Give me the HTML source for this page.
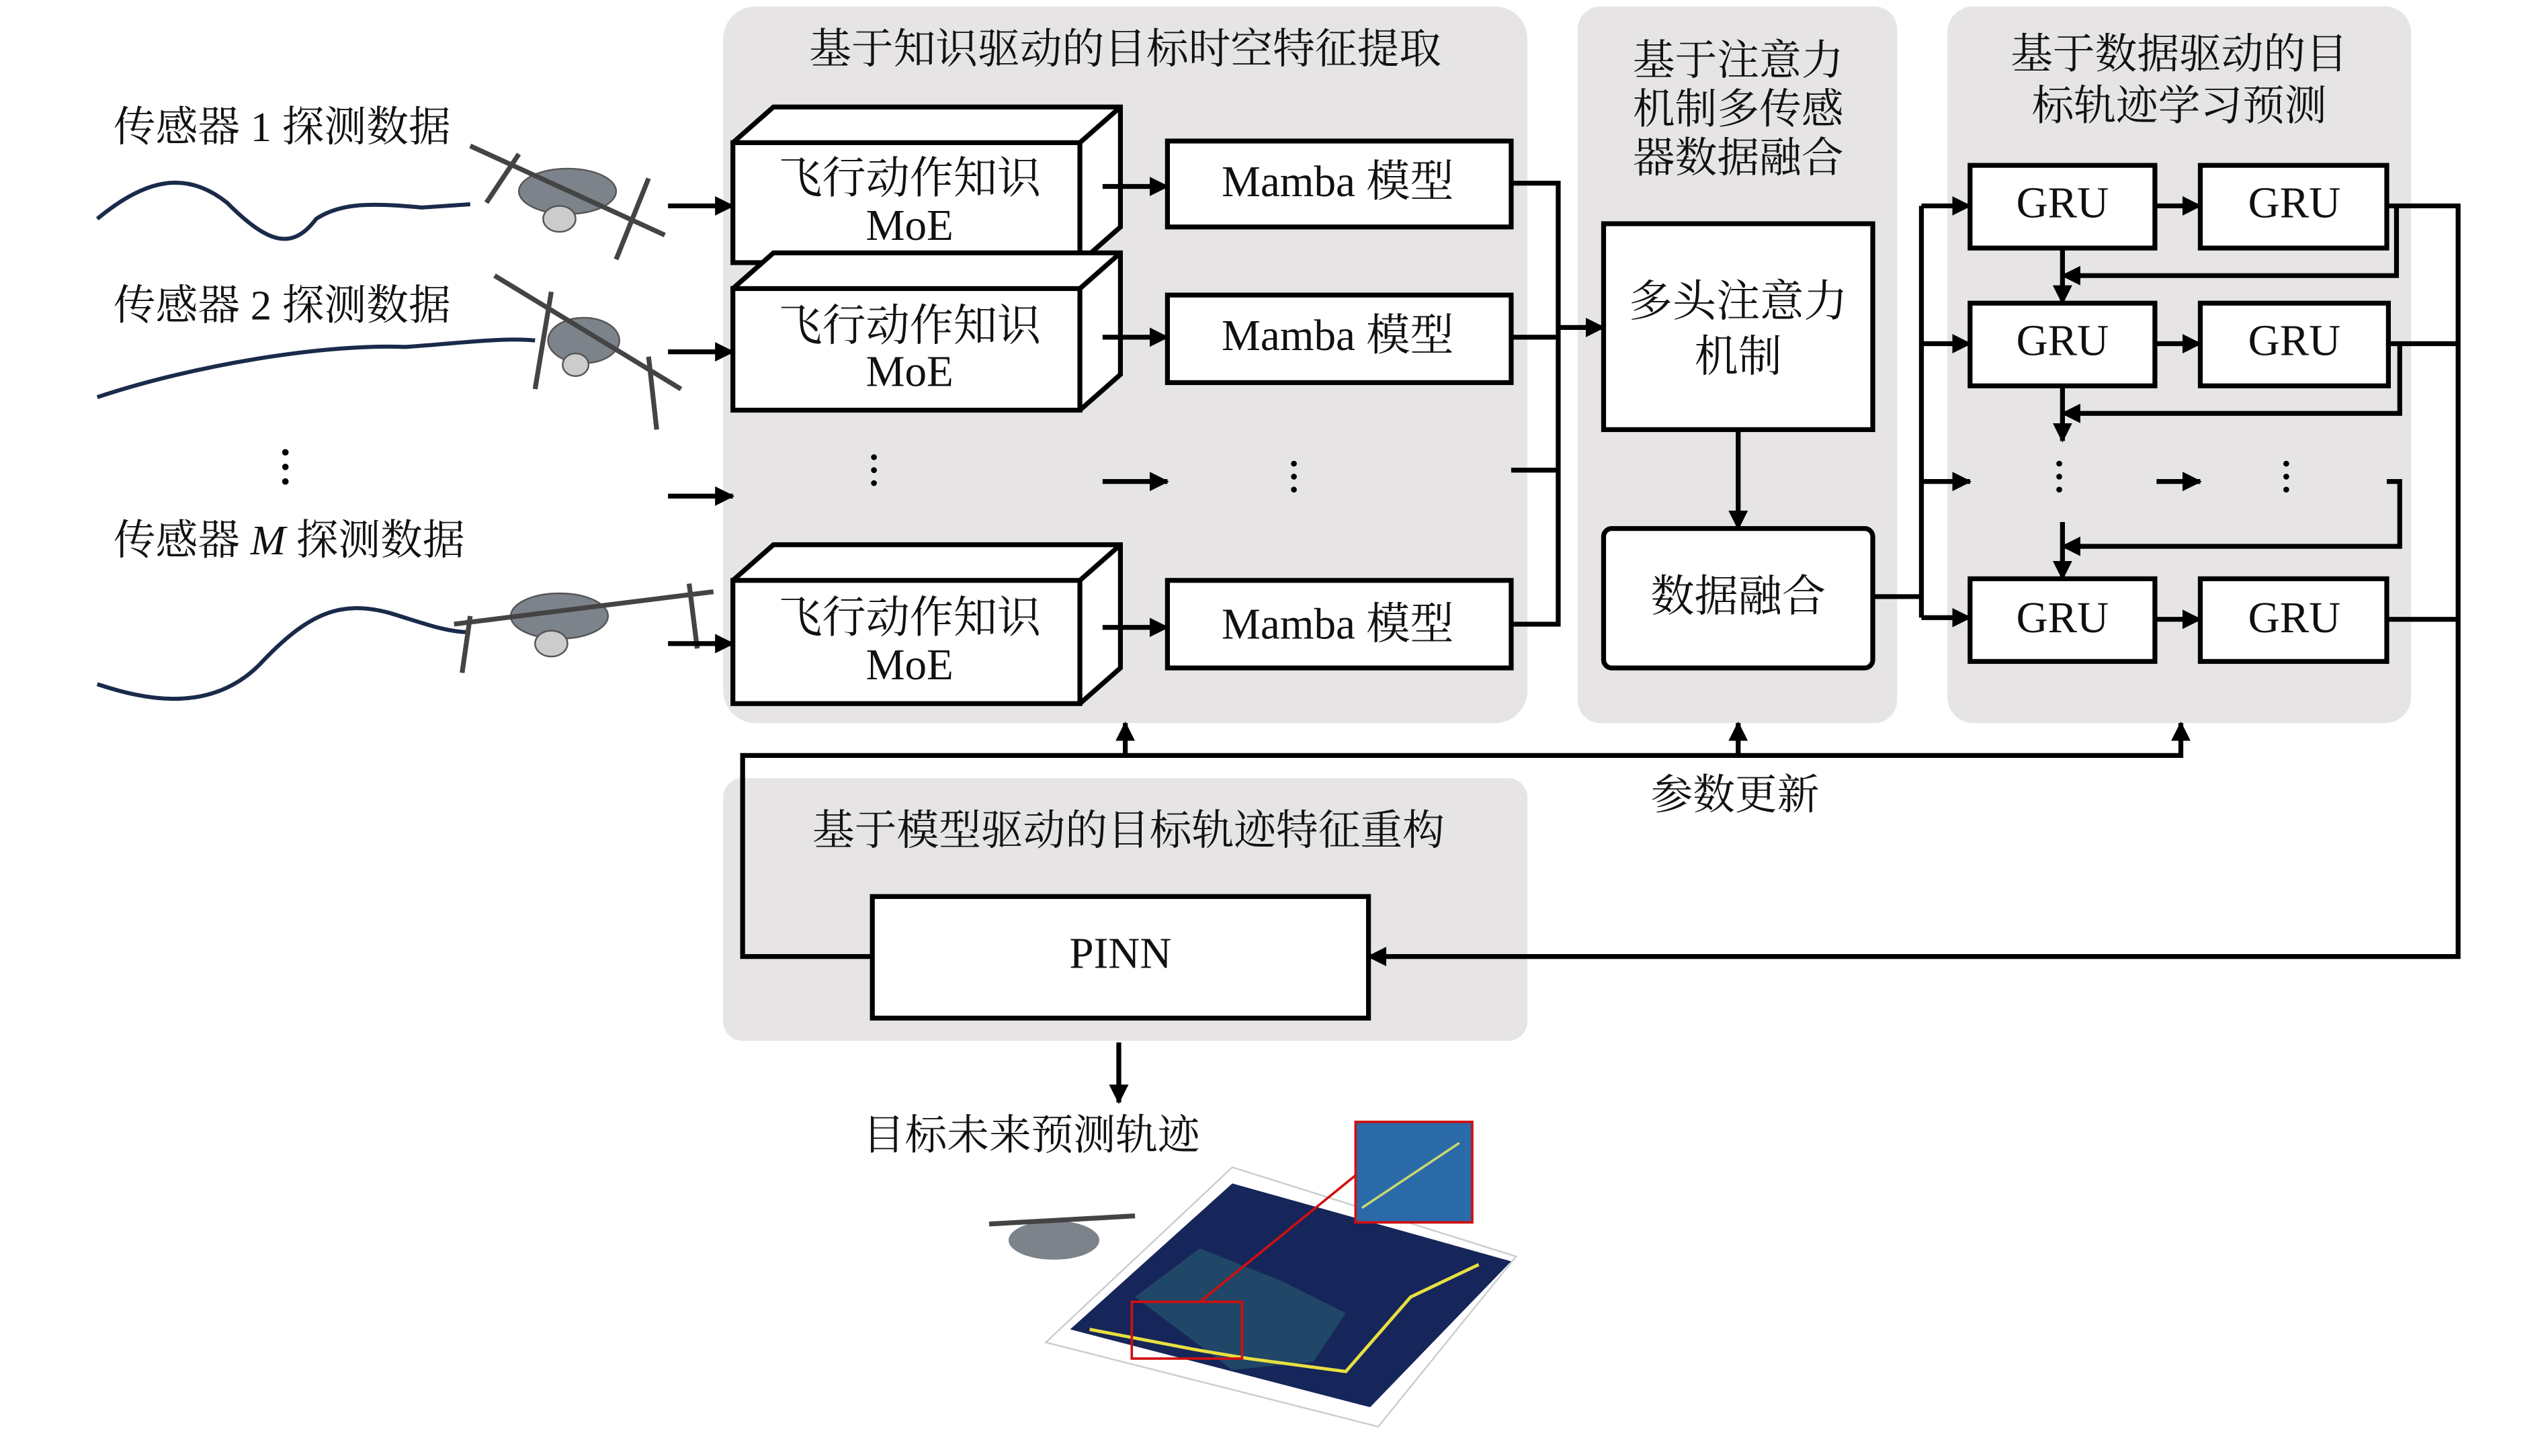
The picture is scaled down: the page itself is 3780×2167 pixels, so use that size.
<!DOCTYPE html>
<html><head><meta charset="utf-8"><style>
html,body{margin:0;padding:0;background:#fff;}
svg{display:block}
text{font-family:"Liberation Serif","Noto Serif CJK SC","Noto Sans CJK SC",serif;fill:#111;}
</style></head><body>
<svg width="3780" height="2167" viewBox="0 0 1566.5 898.1" preserveAspectRatio="none" xmlns="http://www.w3.org/2000/svg">
<defs>
<marker id="b" markerWidth="12" markerHeight="12" refX="11" refY="6" orient="auto" markerUnits="userSpaceOnUse"><path d="M0,0 L12,6 L0,12z" fill="#000"/></marker>
</defs>
<g fill="#e6e4e4">
<rect x="446" y="4" width="496" height="442" rx="20"/>
<rect x="973" y="4" width="197" height="442" rx="14"/>
<rect x="1201" y="4" width="286" height="442" rx="16"/>
<rect x="446" y="480" width="496" height="162" rx="12"/>
</g>
<g font-size="26" text-anchor="middle">
<text x="694" y="39">基于知识驱动的目标时空特征提取</text>
<text x="1072" y="46">基于注意力</text>
<text x="1072" y="76">机制多传感</text>
<text x="1072" y="106">器数据融合</text>
<text x="1344" y="42">基于数据驱动的目</text>
<text x="1344" y="74">标轨迹学习预测</text>
<text x="696" y="521">基于模型驱动的目标轨迹特征重构</text>
<text x="1070" y="499">参数更新</text>
<text x="636" y="709">目标未来预测轨迹</text>
</g>
<g font-size="26">
<text x="70" y="87">传感器 1 探测数据</text>
<text x="70" y="197">传感器 2 探测数据</text>
<text x="70" y="342">传感器 <tspan font-style="italic">M</tspan> 探测数据</text>
</g>
<g fill="#000"><circle cx="176" cy="279" r="2"/><circle cx="176" cy="288" r="2"/><circle cx="176" cy="297" r="2"/></g>
<g fill="none" stroke="#1a2a4a" stroke-width="2.5">
<path d="M60,135 C90,110 115,105 140,125 C165,150 180,155 195,135 C210,125 230,125 260,128 L290,126"/>
<path d="M60,245 C120,225 200,212 250,214 C280,212 310,208 330,210"/>
<path d="M60,422 C90,432 130,440 160,410 C190,378 210,370 240,378 C260,384 275,390 290,390"/>
</g>
<g fill="#7d838b" stroke="#555" stroke-width="1">
<ellipse cx="350" cy="118" rx="30" ry="14"/><ellipse cx="345" cy="135" rx="10" ry="8" fill="#ccc"/>
<path d="M290,90 L410,145" stroke="#444" stroke-width="3"/><path d="M300,125 L320,95 M380,160 L400,110" stroke="#444" stroke-width="3"/>
<ellipse cx="360" cy="210" rx="22" ry="14"/><ellipse cx="355" cy="225" rx="8" ry="7" fill="#ccc"/>
<path d="M305,170 L420,240" stroke="#444" stroke-width="3"/><path d="M340,180 L330,240 M400,220 L405,265" stroke="#444" stroke-width="3"/>
<ellipse cx="345" cy="380" rx="30" ry="14"/><ellipse cx="340" cy="397" rx="10" ry="8" fill="#ccc"/>
<path d="M280,385 L440,365" stroke="#444" stroke-width="3"/><path d="M290,380 L285,415 M425,360 L430,400" stroke="#444" stroke-width="3"/>
</g>
<g stroke="#000" stroke-width="3" marker-end="url(#b)">
<line x1="412" y1="127" x2="452" y2="127"/>
<line x1="412" y1="217" x2="452" y2="217"/>
<line x1="412" y1="306" x2="452" y2="306"/>
<line x1="412" y1="397" x2="452" y2="397"/>
</g>
<g stroke="#000" stroke-width="3" fill="#fff" stroke-linejoin="miter">
<path d="M452,88 L477,66 L691,66 L691,140 L666,162"/><rect x="452" y="88" width="214" height="74"/><line x1="666" y1="88" x2="691" y2="66"/>
<path d="M452,178 L477,156 L691,156 L691,231 L666,253"/><rect x="452" y="178" width="214" height="75"/><line x1="666" y1="178" x2="691" y2="156"/>
<path d="M452,358 L477,336 L691,336 L691,412 L666,434"/><rect x="452" y="358" width="214" height="76"/><line x1="666" y1="358" x2="691" y2="336"/>
<rect x="720" y="87" width="212" height="53"/>
<rect x="720" y="182" width="212" height="54"/>
<rect x="720" y="358" width="212" height="54"/>
<rect x="989" y="138" width="166" height="127"/>
<rect x="989" y="326" width="166" height="86" rx="5"/>
<rect x="1215" y="102" width="114" height="51"/><rect x="1357" y="102" width="115" height="51"/>
<rect x="1215" y="187" width="114" height="51"/><rect x="1357" y="187" width="116" height="51"/>
<rect x="1215" y="357" width="114" height="51"/><rect x="1357" y="357" width="115" height="51"/>
<rect x="538" y="553" width="306" height="75"/>
</g>
<g font-size="27" text-anchor="middle">
<text x="561" y="119">飞行动作知识</text><text x="561" y="148">MoE</text>
<text x="561" y="210">飞行动作知识</text><text x="561" y="238">MoE</text>
<text x="561" y="390">飞行动作知识</text><text x="561" y="419">MoE</text>
<text x="825" y="121">Mamba 模型</text>
<text x="825" y="216">Mamba 模型</text>
<text x="825" y="394">Mamba 模型</text>
<text x="1072" y="195">多头注意力</text><text x="1072" y="229">机制</text>
<text x="1072" y="377">数据融合</text>
<text x="1272" y="134">GRU</text><text x="1415" y="134">GRU</text>
<text x="1272" y="219">GRU</text><text x="1415" y="219">GRU</text>
<text x="1272" y="390">GRU</text><text x="1415" y="390">GRU</text>
<text x="691" y="597">PINN</text>
</g>
<g fill="#000">
<circle cx="539" cy="282" r="1.8"/><circle cx="539" cy="290" r="1.8"/><circle cx="539" cy="298" r="1.8"/>
<circle cx="798" cy="286" r="1.8"/><circle cx="798" cy="294" r="1.8"/><circle cx="798" cy="302" r="1.8"/>
<circle cx="1270" cy="286" r="1.8"/><circle cx="1270" cy="294" r="1.8"/><circle cx="1270" cy="302" r="1.8"/>
<circle cx="1410" cy="286" r="1.8"/><circle cx="1410" cy="294" r="1.8"/><circle cx="1410" cy="302" r="1.8"/>
</g>
<g stroke="#000" stroke-width="3" fill="none">
<g marker-end="url(#b)">
<line x1="680" y1="115" x2="720" y2="115"/>
<line x1="680" y1="208" x2="720" y2="208"/>
<line x1="680" y1="297" x2="720" y2="297"/>
<line x1="680" y1="387" x2="720" y2="387"/>
<line x1="961" y1="202" x2="989" y2="202"/>
<line x1="1072" y1="265" x2="1072" y2="326"/>
<line x1="1185" y1="127" x2="1215" y2="127"/>
<line x1="1185" y1="212" x2="1215" y2="212"/>
<line x1="1185" y1="297" x2="1215" y2="297"/>
<line x1="1185" y1="381" x2="1215" y2="381"/>
<line x1="1329" y1="127" x2="1357" y2="127"/>
<line x1="1329" y1="212" x2="1357" y2="212"/>
<line x1="1330" y1="297" x2="1357" y2="297"/>
<line x1="1329" y1="382" x2="1357" y2="382"/>
<path d="M1478,127 L1478,170 L1272,170"/>
<line x1="1272" y1="153" x2="1272" y2="187"/>
<path d="M1480,212 L1480,255 L1272,255"/>
<line x1="1272" y1="238" x2="1272" y2="272"/>
<path d="M1472,297 L1480,297 L1480,337 L1272,337"/>
<line x1="1272" y1="322" x2="1272" y2="357"/>
<path d="M1472,127 L1516,127 L1516,590 L844,590"/>
<line x1="694" y1="466" x2="694" y2="446"/>
<line x1="1072" y1="466" x2="1072" y2="446"/>
<path d="M538,590 L458,590 L458,466 L1345,466 L1345,446"/>
<line x1="690" y1="643" x2="690" y2="680"/>
</g>
<path d="M932,113 L961,113 L961,385 L932,385 M932,208 L961,208 M932,290 L961,290"/>
<path d="M1155,368 L1185,368 M1185,127 L1185,381"/>
<path d="M1473,212 L1516,212 M1472,382 L1516,382"/>
</g>
<g>
<path d="M645,828 L760,720 L935,775 L850,880 Z" fill="#fff" stroke="#ccc" stroke-width="1"/>
<path d="M660,820 L760,730 L932,778 L845,868 Z" fill="#16265a"/>
<path d="M700,800 L740,770 L790,790 L830,810 L810,840 L760,845 Z" fill="#23506a" opacity="0.8"/>
<path d="M672,820 L740,833 L770,838 L830,846 L870,800 L912,780" fill="none" stroke="#e8e040" stroke-width="2"/>
<rect x="698" y="803" width="68" height="35" fill="none" stroke="#d01010" stroke-width="1.5"/>
<line x1="740" y1="803" x2="836" y2="725" stroke="#d01010" stroke-width="1.5"/>
<rect x="836" y="692" width="72" height="62" fill="#2a6aa8" stroke="#d01010" stroke-width="1.5"/>
<path d="M840,745 L870,725 L900,705" stroke="#c8d870" stroke-width="1.5" fill="none"/>
<ellipse cx="650" cy="765" rx="28" ry="12" fill="#7d838b"/>
<path d="M610,755 L700,750" stroke="#444" stroke-width="3"/>
</g>
</svg>
</body></html>
